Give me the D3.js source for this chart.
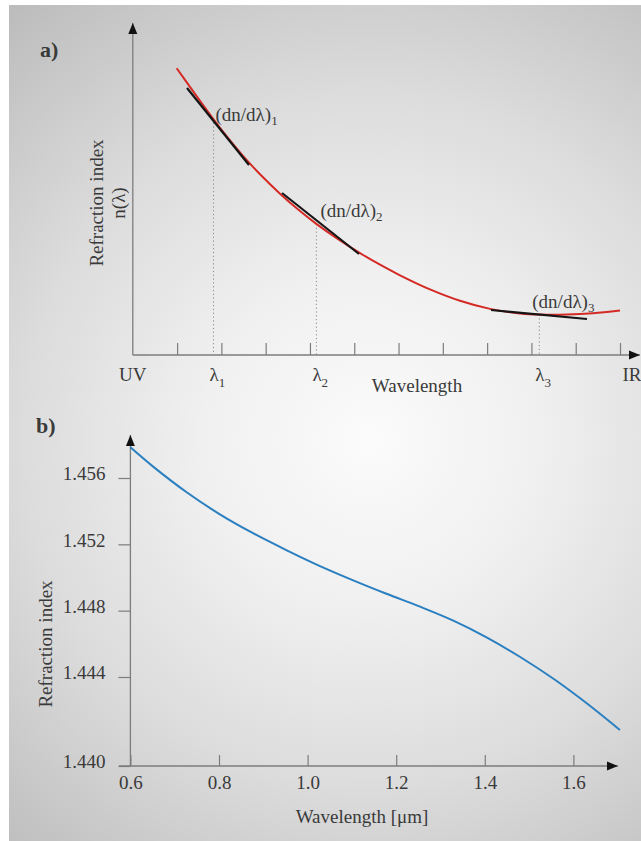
<!DOCTYPE html>
<html>
<head>
<meta charset="utf-8">
<script src="https://cdn.jsdelivr.net/npm/d3@7"></script>
<style>
  html, body { margin: 0; padding: 0; background: #ffffff; }
  svg { display: block; }
  text { font-family: "Liberation Serif", "Times New Roman", serif; fill: #3a3a3a; }
</style>
</head>
<body>
<svg id="chart" width="641" height="841"></svg>
<script>
// ---------- Panel a: schematic dispersion curve ----------
// wavelength in axis-tick units (0 = UV end), n in arbitrary units
const curveWl = [0.991, 1.359, 1.810, 2.127, 2.488, 2.872, 3.324, 3.775, 4.159, 4.610,
                 5.130, 5.582, 6.033, 6.710, 7.388, 8.065, 8.743, 9.194, 9.804, 10.391, 11.0];
const curveN  = [95.57, 87.97, 78.83, 72.77, 66.37, 60.23, 53.77, 47.97, 43.53, 38.87,
                 33.97, 30.1, 26.57, 21.87, 18.07, 15.37, 13.87, 13.47, 13.47, 13.9, 14.8];
// wavelengths where the slope is taken, and n there
const lambdaWl = [1.822, 4.145, 9.178];
const lambdaN  = [78.7, 43.67, 13.47];
// tangent segments: [wl1, n1, wl2, n2]
const tangents = [
  [1.224, 89.0, 2.623, 63.33],
  [3.369, 54.0, 5.107, 33.67],
  [8.087, 15.0, 10.255, 12.0]
];
const topTicks = [1, 2, 3, 4, 5, 6, 7, 8, 9, 10, 11];
const lambdaSubs = ["1", "2", "3"];

// ---------- Panel b: refraction index vs wavelength ----------
const wavelengthUm = [0.600, 0.652, 0.727, 0.802, 0.877, 0.953, 1.028, 1.103, 1.178,
                      1.254, 1.329, 1.404, 1.479, 1.555, 1.630, 1.705];
const refIndex = [1.45785, 1.45667, 1.45514, 1.45381, 1.45267, 1.45164, 1.45069, 1.44983,
                  1.44902, 1.44824, 1.44740, 1.44639, 1.44522, 1.44392, 1.44282, 1.44162];
const xTicksB = [0.6, 0.8, 1.0, 1.2, 1.4, 1.6];
const yTicksB = [1.440, 1.444, 1.448, 1.452, 1.456];

const svg = d3.select("#chart");
const defs = svg.append("defs");

// background shading
const grad = defs.append("radialGradient")
  .attr("id", "bg").attr("gradientUnits", "userSpaceOnUse")
  .attr("cx", 370).attr("cy", 440).attr("r", 560);
[[0, "#fbfbfb"], [0.3, "#f0f0f0"], [0.62, "#dcdcdc"], [1, "#bcbcbc"]]
  .forEach(([o, c]) => grad.append("stop").attr("offset", o).attr("stop-color", c));
svg.append("rect").attr("x", 9).attr("y", 5).attr("width", 632).attr("height", 836)
  .attr("fill", "url(#bg)");

// arrow head
defs.append("marker")
  .attr("id", "arrow").attr("markerUnits", "userSpaceOnUse")
  .attr("markerWidth", 12).attr("markerHeight", 10)
  .attr("viewBox", "0 0 12 10").attr("refX", 11).attr("refY", 5)
  .attr("orient", "auto")
  .append("path").attr("d", "M0,0.5 L11,5 L0,9.5 Z").attr("fill", "#111");

const axisColor = "#7d7d7d";
const fs = 19;

// ===== Panel a =====
const xA = d3.scaleLinear().domain([0, 11]).range([132.8, 620]);
const yA = d3.scaleLinear().domain([0, 100]).range([355, 55]);

const gA = svg.append("g");

// tick marks along the wavelength axis
const axA = gA.append("g").attr("transform", `translate(0,${yA(0)})`)
  .call(d3.axisBottom(xA).tickValues(topTicks).tickSizeInner(-12).tickSizeOuter(0).tickFormat(""));
axA.select(".domain").remove();
axA.selectAll(".tick line").attr("stroke", axisColor).attr("stroke-width", 1.2);

// axes with arrows
gA.append("line").attr("x1", xA(0)).attr("x2", xA(11.45)).attr("y1", yA(0)).attr("y2", yA(0))
  .attr("stroke", axisColor).attr("stroke-width", 1.3).attr("marker-end", "url(#arrow)");
gA.append("line").attr("x1", xA(0)).attr("x2", xA(0)).attr("y1", yA(0)).attr("y2", yA(110.7))
  .attr("stroke", axisColor).attr("stroke-width", 1.3).attr("marker-end", "url(#arrow)");

// dotted drop lines
gA.selectAll(".drop").data(lambdaWl).join("line")
  .attr("x1", d => xA(d)).attr("x2", d => xA(d))
  .attr("y1", (d, i) => yA(lambdaN[i])).attr("y2", yA(0))
  .attr("stroke", "#8a8a8a").attr("stroke-width", 1).attr("stroke-dasharray", "1.2,2.6");

// dispersion curve
const lineA = d3.line().x(d => xA(d[0])).y(d => yA(d[1])).curve(d3.curveCatmullRom.alpha(0.5));
gA.append("path").datum(curveWl.map((w, i) => [w, curveN[i]]))
  .attr("d", lineA).attr("fill", "none").attr("stroke", "#d42a25").attr("stroke-width", 2);

// tangents
gA.selectAll(".tan").data(tangents).join("line")
  .attr("x1", d => xA(d[0])).attr("y1", d => yA(d[1]))
  .attr("x2", d => xA(d[2])).attr("y2", d => yA(d[3]))
  .attr("stroke", "#151515").attr("stroke-width", 2.2);

// slope annotations
const annOffset = [[2, 2], [4, -7], [-7, -7]];
lambdaWl.forEach((w, i) => {
  const t = gA.append("text")
    .attr("x", xA(w) + annOffset[i][0]).attr("y", yA(lambdaN[i]) + annOffset[i][1])
    .attr("font-size", fs);
  t.append("tspan").text("(dn/dλ)");
  t.append("tspan").attr("dy", 4).attr("font-size", 13).text(lambdaSubs[i]);
});

// wavelength axis labels
const labBase = yA(0) + 26;
gA.append("text").attr("x", xA(0)).attr("y", labBase).attr("text-anchor", "middle")
  .attr("font-size", fs).text("UV");
gA.append("text").attr("x", xA(11.0) + 12).attr("y", labBase).attr("text-anchor", "middle")
  .attr("font-size", fs).text("IR");
lambdaWl.forEach((w, i) => {
  const t = gA.append("text").attr("x", xA(w) - 4).attr("y", labBase).attr("font-size", fs);
  t.append("tspan").text("λ");
  t.append("tspan").attr("dy", 6).attr("font-size", 13).text(lambdaSubs[i]);
});
gA.append("text").attr("x", 417).attr("y", 392).attr("text-anchor", "middle")
  .attr("font-size", fs).text("Wavelength");

// y label
gA.append("text").attr("transform", "translate(103,203) rotate(-90)").attr("text-anchor", "middle")
  .attr("font-size", fs).text("Refraction index");
gA.append("text").attr("transform", "translate(125,203) rotate(-90)").attr("text-anchor", "middle")
  .attr("font-size", fs).text("n(λ)");

gA.append("text").attr("x", 40).attr("y", 57).attr("font-size", 22).attr("font-weight", "bold")
  .attr("fill", "#222").text("a)");

// ===== Panel b =====
const xB = d3.scaleLinear().domain([0.6, 1.6]).range([130.4, 573.4]);
const yB = d3.scaleLinear().domain([1.440, 1.444, 1.456]).range([766, 677, 478]);

const gB = svg.append("g");

const axXB = gB.append("g").attr("transform", `translate(0,${yB(1.440)})`)
  .call(d3.axisBottom(xB).tickValues(xTicksB).tickSizeInner(-11).tickSizeOuter(0)
    .tickPadding(10).tickFormat(d3.format(".1f")));
axXB.select(".domain").remove();
axXB.selectAll(".tick line").attr("stroke", axisColor).attr("stroke-width", 1.2);
axXB.selectAll(".tick text").attr("font-size", fs)
  .attr("font-family", "Liberation Serif, serif").attr("fill", "#3a3a3a");

const axYB = gB.append("g").attr("transform", `translate(${xB(0.6)},0)`)
  .call(d3.axisLeft(yB).tickValues(yTicksB).tickSizeInner(12).tickSizeOuter(0)
    .tickPadding(13).tickFormat(d3.format(".3f")));
axYB.select(".domain").remove();
axYB.selectAll(".tick line").attr("stroke", axisColor).attr("stroke-width", 1.2);
axYB.selectAll(".tick text").attr("font-size", fs).attr("dy", "0.1em")
  .attr("font-family", "Liberation Serif, serif").attr("fill", "#3a3a3a");

gB.append("line").attr("x1", 119).attr("x2", xB(1.7006)).attr("y1", yB(1.440)).attr("y2", yB(1.440))
  .attr("stroke", axisColor).attr("stroke-width", 1.3).attr("marker-end", "url(#arrow)");
gB.append("line").attr("x1", xB(0.6)).attr("x2", xB(0.6)).attr("y1", yB(1.440)).attr("y2", yB(1.45859))
  .attr("stroke", axisColor).attr("stroke-width", 1.3).attr("marker-end", "url(#arrow)");

const lineB = d3.line().x(d => xB(d[0])).y(d => yB(d[1])).curve(d3.curveCatmullRom.alpha(0.5));
gB.append("path").datum(wavelengthUm.map((w, i) => [w, refIndex[i]]))
  .attr("d", lineB).attr("fill", "none").attr("stroke", "#2a7fc0").attr("stroke-width", 2);

gB.append("text").attr("x", 362).attr("y", 823).attr("text-anchor", "middle")
  .attr("font-size", fs).text("Wavelength [μm]");
gB.append("text").attr("transform", "translate(52,644) rotate(-90)").attr("text-anchor", "middle")
  .attr("font-size", fs).text("Refraction index");

gB.append("text").attr("x", 36).attr("y", 433).attr("font-size", 22).attr("font-weight", "bold")
  .attr("fill", "#222").text("b)");
</script>
</body>
</html>
